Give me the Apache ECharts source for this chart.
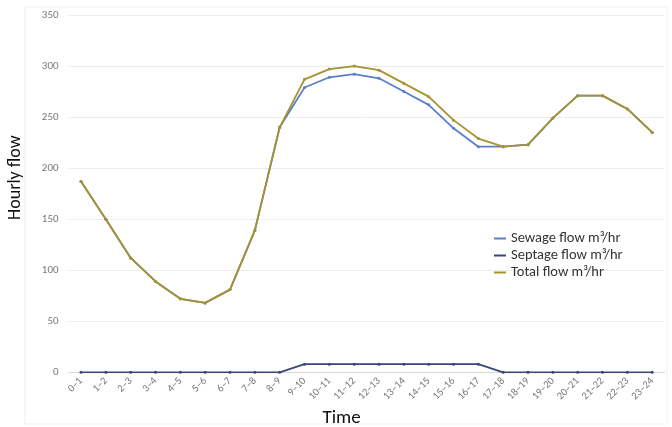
<!DOCTYPE html>
<html>
<head>
<meta charset="utf-8">
<script src="https://cdn.jsdelivr.net/npm/echarts@6/dist/echarts.min.js"></script>
<style>
html,body{margin:0;padding:0;background:#fff;}
#c{width:672px;height:427px;}
</style>
</head>
<body>
<div id="c"></div>
<script>
const categories = ["0–1","1–2","2–3","3–4","4–5","5–6","6–7","7–8","8–9","9–10","10–11","11–12","12–13","13–14","14–15","15–16","16–17","17–18","18–19","19–20","20–21","21–22","22–23","23–24"];
const sewage = [187,150,112,89,72,68,81,139,240,279,289,292,288,275,262,239,221,221,223,249,271,271,258,235];
const septage = [0,0,0,0,0,0,0,0,0,8,8,8,8,8,8,8,8,0,0,0,0,0,0,0];
const total = [187,150,112,89,72,68,81,139,240,287,297,300,296,283,270,247,229,221,223,249,271,271,258,235];
const yTicks = [0,50,100,150,200,250,300,350];

const colors = {sewage:'#5b7fc8', septage:'#3a4778', total:'#a6922e'};
const chart = echarts.init(document.getElementById('c'), null, {renderer:'canvas'});
const font = 'Carlito, Calibri, "Open Sans", "Noto Sans", sans-serif';
function line(name, data, color, z){
  return {name, type:'line', data, z, symbol:'circle', symbolSize:3,
    lineStyle:{color, width:1.8}, itemStyle:{color}, emphasis:{disabled:true}};
}
chart.setOption({
  animation:false,
  textStyle:{fontFamily:font},
  graphic:[{type:'rect', shape:{x:25, y:7, width:642, height:417}, style:{fill:'none', stroke:'#efefef', lineWidth:1}, silent:true}],
  grid:{left:68.6, right:7.4, top:15, bottom:54.7, outerBoundsMode:'none', containLabel:false},
  legend:{orient:'vertical', left:489, top:226, itemGap:2, itemWidth:12, itemHeight:2,
    icon:'rect',
    textStyle:{fontSize:14.5, color:'#333', fontFamily:font},
    data:[
      {name:'Sewage flow m³/hr', itemStyle:{color:colors.sewage}},
      {name:'Septage flow m³/hr', itemStyle:{color:colors.septage}},
      {name:'Total flow m³/hr', itemStyle:{color:colors.total}}
    ]},
  xAxis:{type:'category', data:categories, boundaryGap:true,
    name:'Time', nameLocation:'middle', nameGap:35,
    nameTextStyle:{fontSize:19, color:'#111', padding:[0,50,0,0]},
    axisLine:{show:true, lineStyle:{color:'#d9d9d9'}}, axisTick:{show:false},
    axisLabel:{rotate:45, fontSize:10.5, color:'#777', margin:7, interval:0}},
  yAxis:{type:'value', min:0, max:350, interval:50,
    name:'Hourly flow', nameLocation:'middle', nameGap:44,
    nameTextStyle:{fontSize:18, color:'#111', padding:[0,0,0,32]},
    axisLine:{show:false}, axisTick:{show:false},
    axisLabel:{fontSize:11, color:'#777', margin:10,
      formatter:v=>yTicks.includes(v)?String(v):''},
    splitLine:{lineStyle:{color:'#ededed', width:1}}},
  series:[
    line('Sewage flow m³/hr', sewage, colors.sewage, 2),
    line('Septage flow m³/hr', septage, colors.septage, 3),
    line('Total flow m³/hr', total, colors.total, 4)
  ]
});
</script>
</body>
</html>
